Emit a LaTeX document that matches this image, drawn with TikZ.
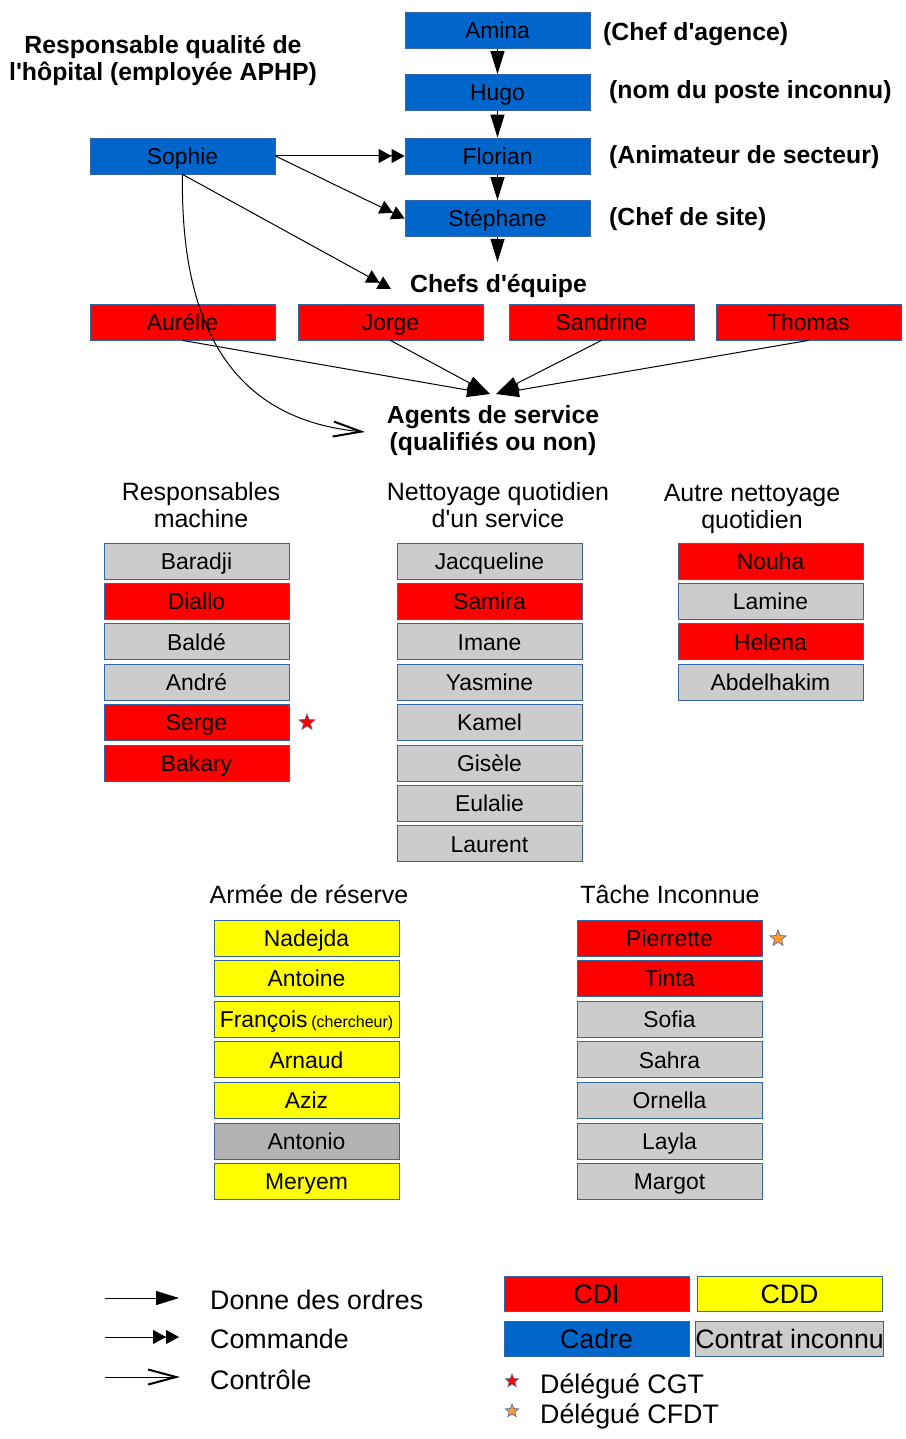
\documentclass[tikz,border=0pt]{standalone}
\usepackage{fontspec}
\setmainfont{Liberation Sans}
\usetikzlibrary{arrows.meta,shapes.geometric}
\definecolor{cblue}{HTML}{0066CC}
\definecolor{cred}{HTML}{FF0000}
\definecolor{cyel}{HTML}{FFFF00}
\definecolor{cgray}{HTML}{CCCCCC}
\definecolor{cgraytwo}{HTML}{B3B3B3}
\definecolor{cedge}{HTML}{3465A4}
\definecolor{corange}{HTML}{FF9A2E}
\definecolor{cstaredge}{HTML}{5A6EA0}
\newcommand\apo{\textquotesingle}
\begin{document}
\begin{tikzpicture}[x=1pt,y=-1pt,
  box/.style={draw=cedge, line width=0.8pt, minimum width=185pt, minimum height=36pt, inner sep=0pt, text height=20.4pt, text depth=4pt, font=\fontsize{22.9}{26}\selectfont, text=black},
  lgbox/.style={box, minimum height=35pt, text height=24pt, text depth=4.9pt, font=\fontsize{26.7}{30}\selectfont},
  head/.style={font=\fontsize{25}{27}\selectfont, align=center, inner sep=0pt},
  bhead/.style={font=\bfseries\fontsize{24.8}{27}\selectfont, align=center, inner sep=0pt},
  lgtext/.style={font=\fontsize{26.8}{30}\selectfont, anchor=west, inner sep=0pt},
  order/.style={line width=1pt, -{Triangle[length=23pt,width=14pt]}},
  cmd/.style={line width=1pt, -{Triangle[length=13pt,width=14pt]Triangle[length=13pt,width=14pt]}},
  ctrl/.style={line width=1pt, -{Straight Barb[length=28pt,width=15pt,line width=2pt]}},
  starmark/.style={star, star points=5, star point ratio=2.3, inner sep=0pt, minimum size=17pt, draw=cstaredge, line width=0.7pt},
]
\useasboundingbox (0,0) rectangle (905,1439);

% top hierarchy
\node[box,fill=cblue] (amina) at (497.5,30.5) {Amina};
\node[box,fill=cblue] (hugo) at (497.5,92.5) {Hugo};
\node[box,fill=cblue] (florian) at (497.5,156) {Florian};
\node[box,fill=cblue] (stephane) at (497.5,218.5) {Stéphane};
\node[box,fill=cblue] (sophie) at (182.5,156) {Sophie};

\node[bhead,anchor=west] (l1) at (603,34) {(Chef d\apo agence)};
\node[bhead,anchor=west] (l2) at (609,92) {(nom du poste inconnu)};
\node[bhead,anchor=west] (l3) at (609,157) {(Animateur de secteur)};
\node[bhead,anchor=west] (l4) at (609,219) {(Chef de site)};
\node[bhead] (resp) at (163,60.5) {Responsable qualité de\\l\apo hôpital (employée APHP)};

\node[bhead] (chefs) at (498.5,286) {Chefs d\apo équipe};
\coordinate (chefsTop) at (497.5,262);
\coordinate (chefsL) at (391,289);

\draw[order] (amina) -- (hugo);
\draw[order] (hugo) -- (florian);
\draw[order] (florian) -- (stephane);
\draw[order] (stephane) -- (chefsTop);

\draw[cmd] (sophie.east) -- (florian.west);
\draw[cmd] (sophie.east) -- (stephane.west);
\draw[cmd] (sophie.south) -- (chefsL);

% chefs d'equipe
\node[box,fill=cred] (aurelie) at (182.5,322) {Aurélie};
\node[box,fill=cred] (jorge) at (390.5,322) {Jorge};
\node[box,fill=cred] (sandrine) at (601.5,322) {Sandrine};
\node[box,fill=cred] (thomas) at (808.5,322) {Thomas};

\node[bhead] (agents) at (493,430.5) {Agents de service\\(qualifiés ou non)};
\coordinate (agL) at (490,394);
\coordinate (agR) at (496,394);
\coordinate (agentsL) at (365,432);

\draw[order] (aurelie.south) -- (agL);
\draw[order] (jorge.south) -- (agL);
\draw[order] (sandrine.south) -- (agR);
\draw[order] (thomas.south) -- (agR);

\draw[ctrl] (sophie.south) .. controls (180,330) and (235,420) .. (agentsL);

% columns
\node[head] (h1) at (201,505.5) {Responsables\\machine};
\node[head] (h2) at (498,505.5) {Nettoyage quotidien\\d\apo un service};
\node[head] (h3) at (752,508.5) {Autre nettoyage\\quotidien};

\foreach \n/\c [count=\i from 0] in {Baradji/cgray, Diallo/cred, Baldé/cgray, André/cgray, Serge/cred, Bakary/cred}
  \node[box,fill=\c] (ma\i) at (196.5,{561+40.4*\i}) {\n};
\foreach \n/\c [count=\i from 0] in {Jacqueline/cgray, Samira/cred, Imane/cgray, Yasmine/cgray, Kamel/cgray, Gisèle/cgray, Eulalie/cgray, Laurent/cgray}
  \node[box,fill=\c] (ne\i) at (489.5,{561+40.4*\i}) {\n};
\foreach \n/\c [count=\i from 0] in {Nouha/cred, Lamine/cgray, Helena/cred, Abdelhakim/cgray}
  \node[box,fill=\c] (au\i) at (770.5,{561+40.4*\i}) {\n};
\node[starmark,fill=cred] (star1) at (307,722.5) {};

\node[head] (h4) at (309,894) {Armée de réserve};
\node[head] (h5) at (670,895) {Tâche Inconnue};

\foreach \n/\c [count=\i from 0] in {Nadejda/cyel, Antoine/cyel, {François\,{\fontsize{16}{16}\selectfont(chercheur)}}/cyel, Arnaud/cyel, Aziz/cyel, Antonio/cgraytwo, Meryem/cyel}
  \node[box,fill=\c] (ar\i) at (306.5,{938+40.6*\i}) {\n};
\foreach \n/\c [count=\i from 0] in {Pierrette/cred, Tinta/cred, Sofia/cgray, Sahra/cgray, Ornella/cgray, Layla/cgray, Margot/cgray}
  \node[box,fill=\c] (ti\i) at (669.5,{938+40.6*\i}) {\n};
\node[starmark,fill=corange] (star2) at (778,938.5) {};

% legend
\coordinate (a1) at (105,1298); \coordinate (b1) at (179,1298);
\coordinate (a2) at (105,1337); \coordinate (b2) at (179,1337);
\coordinate (a3) at (105,1377); \coordinate (b3) at (180,1377);
\draw[order] (a1) -- (b1);
\draw[cmd] (a2) -- (b2);
\draw[ctrl] (a3) -- (b3);
\node[lgtext] (t1) at (210,1300) {Donne des ordres};
\node[lgtext] (t2) at (210,1339) {Commande};
\node[lgtext] (t3) at (210,1380) {Contrôle};

\node[lgbox,fill=cred] (cdi) at (596.5,1293.5) {CDI};
\node[lgbox,fill=cyel] (cdd) at (789.5,1293.5) {CDD};
\node[lgbox,fill=cblue] (cadre) at (596.5,1339) {Cadre};
\node[lgbox,fill=cgray] (inc) at (789.5,1339) {Contrat inconnu};

\node[starmark,fill=cred,minimum size=14pt] (s3) at (512,1381) {};
\node[starmark,fill=corange,minimum size=14pt] (s4) at (512,1411) {};
\node[lgtext] (t4) at (540,1386) {Délégué CGT};
\node[lgtext] (t5) at (540,1416) {Délégué CFDT};
\end{tikzpicture}
\end{document}
